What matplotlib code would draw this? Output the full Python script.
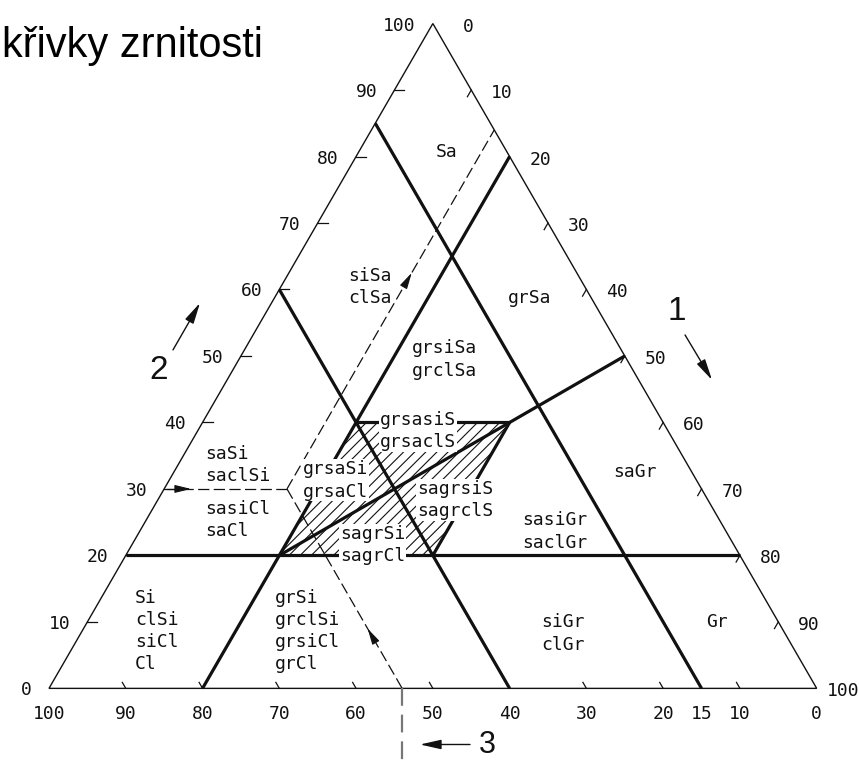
import numpy as np
import matplotlib
matplotlib.use("Agg")
import matplotlib.pyplot as plt
from matplotlib import font_manager
from matplotlib.patches import Polygon

# ---------------------------------------------------------------------------
# Ternary soil classification: sand (Sa), gravel (Gr), fines (Si + Cl), in %.
# Every point is given as (sand %, gravel %); fines = 100 - sand - gravel.
# ---------------------------------------------------------------------------

# solid class boundaries (start and end of each segment)
boundary_start = [(20, 0), (40, 20), (0, 20), (20, 40), (60, 0), (85, 0), (20, 20)]
boundary_end = [(20, 80), (40, 40), (80, 20), (40, 40), (0, 60), (0, 85), (50, 50)]

# dashed sub-division lines, all running out from one junction
dash_junction = (30, 16)
dash_ends = [(30, 0), (84, 16), (0, 46)]

# hatched zone of mixed soils
mixed_sand = [20, 40, 40, 20]
mixed_gravel = [20, 20, 40, 40]

# graduations
sand_ticks = [0, 10, 20, 30, 40, 50, 60, 70, 80, 90, 100]
gravel_ticks = [0, 10, 20, 30, 40, 50, 60, 70, 80, 90, 100]
fines_ticks = [100, 90, 80, 70, 60, 50, 40, 30, 20, 15, 10, 0]
minor_marks = [10, 20, 30, 40, 50, 60, 70, 80, 90]

# soil names of the classification fields
field_names = ["Sa", "siSa\nclSa", "grSa", "grsiSa\ngrclSa", "grsasiS\ngrsaclS",
               "saSi\nsaclSi", "sasiCl\nsaCl", "grsaSi\ngrsaCl", "sagrsiS\nsagrclS",
               "sagrSi\nsagrCl", "saGr", "sasiGr\nsaclGr", "Si\nclSi\nsiCl\nCl",
               "grSi\ngrclSi\ngrsiCl\ngrCl", "siGr\nclGr", "Gr"]


def tern(sa, gr):
    """(sand, gravel) in % -> cartesian plot coordinates."""
    sa = np.asarray(sa, dtype=float)
    gr = np.asarray(gr, dtype=float)
    return gr + sa / 2.0, sa * np.sqrt(3) / 2.0


available = {f.name for f in font_manager.fontManager.ttflist}
mono = "DejaVu Sans Mono"
narrow = "Liberation Sans Narrow" if "Liberation Sans Narrow" in available else "Liberation Sans"
title_font = "Liberation Sans" if "Liberation Sans" in available else "DejaVu Sans"

plt.rcParams["hatch.linewidth"] = 0.8

fig = plt.figure(figsize=(8.59, 7.60), dpi=100)
ax = fig.add_axes([0, 0, 1, 1])
ax.set_xlim(-6.383, 105.51)
ax.set_ylim(-9.33, 89.67)
ax.axis("off")

ink = "#111111"

# outer triangle
corners = np.array([tern(0, 0), tern(0, 100), tern(100, 0)])
ax.add_patch(Polygon(corners, closed=True, fill=False, ec=ink, lw=1.0, zorder=2))

# hatched mixed-soil zone
zx, zy = tern(mixed_sand, mixed_gravel)
ax.add_patch(Polygon(np.column_stack([zx, zy]), closed=True, fc="none",
                     ec=ink, lw=0, hatch="///", zorder=1))

# solid boundaries
for (s0, g0), (s1, g1) in zip(boundary_start, boundary_end):
    x, y = tern([s0, s1], [g0, g1])
    ax.plot(x, y, color=ink, lw=2.3, solid_capstyle="butt", zorder=2)

# dashed sub-division lines
for s1, g1 in dash_ends:
    x, y = tern([dash_junction[0], s1], [dash_junction[1], g1])
    ax.plot(x, y, color=ink, lw=0.9, dashes=(9, 3.5), zorder=2)

# dashed marker below the base, continuing the lower dashed line
bx, _ = tern(dash_ends[2][0], dash_ends[2][1])
ax.plot([bx, bx], [0, -9.33], color="#777777", lw=1.6, dashes=(8, 4), zorder=2)


def head(tip, tail):
    ax.annotate("", xy=tip, xytext=tail,
                arrowprops=dict(arrowstyle="-|>,head_length=0.9,head_width=0.22",
                                mutation_scale=11, lw=0.8, color=ink,
                                shrinkA=0, shrinkB=0), zorder=3)


# direction arrows on the dashed lines
head(tern(30, 3.5), tern(30, 1.5))
head(tern(62.5, 16), tern(60.5, 16))
head(tern(9.0, 37.0), tern(7.0, 39.0))

# graduation marks (short strokes pointing along the grid direction)
for v in minor_marks:
    # sand on the left side: horizontal stroke
    x, y = tern(v, 0)
    ax.plot([x, x + 1.3], [y, y], color=ink, lw=0.9, zorder=2)
    # gravel on the right side: stroke parallel to the left side
    x, y = tern(100 - v, v)
    ax.plot([x, x - 0.5], [y, y - 0.87], color=ink, lw=0.9, zorder=2)
    # fines on the base: stroke parallel to the right side
    x, y = tern(0, 100 - v)
    ax.plot([x, x - 0.45], [y, y + 0.78], color=ink, lw=0.9, zorder=2)

tick_style = dict(fontsize=13, family=mono, color=ink, textcoords="offset pixels")
for v in sand_ticks:
    ax.annotate(str(v), xy=tern(v, 0), xytext=(-17, -2), ha="right", va="center",
                **tick_style)
for v in gravel_ticks:
    dx = 30 if v == 0 else (10 if v == 100 else 20)
    ax.annotate(str(v), xy=tern(100 - v, v), xytext=(dx, -3), ha="left", va="center",
                **tick_style)
for v in fines_ticks:
    ax.annotate(str(v), xy=tern(0, 100 - v), xytext=(0, -26), ha="center", va="center",
                **tick_style)

# field names: (x, y, horizontal alignment, white backing)
field_pos = [(51.84, 69.88, "center", False), (38.95, 52.29, "left", False),
             (62.66, 50.87, "center", False), (51.58, 42.84, "center", False),
             (48.07, 33.53, "center", True), (20.32, 29.10, "left", False),
             (20.32, 21.93, "left", False), (33.09, 27.08, "left", True),
             (47.94, 24.54, "left", True), (37.91, 18.68, "left", True),
             (76.33, 28.19, "center", False), (65.91, 20.44, "center", False),
             (11.20, 7.48, "left", False), (29.44, 7.48, "left", False),
             (66.95, 7.15, "center", False), (87.01, 8.65, "center", False)]
for name, (x, y, ha, backed) in zip(field_names, field_pos):
    box = dict(boxstyle="square,pad=0.05", fc="white", ec="none") if backed else None
    ax.text(x, y, name, ha=ha, va="center", fontsize=13, family=mono,
            color=ink, linespacing=1.3, bbox=box, zorder=4)

# axis numbers with their reading direction
big = dict(fontsize=24, family=narrow, color=ink, ha="center", va="center")
ax.text(14.33, 41.46, "2", **big)
ax.text(81.80, 49.03, "1", **big)
ax.text(57.05, -8.45, "3", fontsize=22, family=narrow, color=ink, ha="center",
        va="baseline")
arrow_kw = dict(arrowstyle="-|>,head_length=0.8,head_width=0.18", mutation_scale=16,
                lw=1.0, color=ink, shrinkA=0, shrinkB=0)
ax.annotate("", xy=(19.67, 50.21), xytext=(16.15, 44.09), arrowprops=arrow_kw)
ax.annotate("", xy=(86.36, 40.18), xytext=(82.85, 46.04), arrowprops=arrow_kw)
ax.annotate("", xy=(48.33, -7.31), xytext=(54.84, -7.31), arrowprops=arrow_kw)

# heading
fig.text(2 / 859, 1 - 57 / 760, "křivky zrnitosti", fontsize=30, family=title_font,
         color="black", ha="left", va="baseline")

fig.savefig("out.png", dpi=100)
